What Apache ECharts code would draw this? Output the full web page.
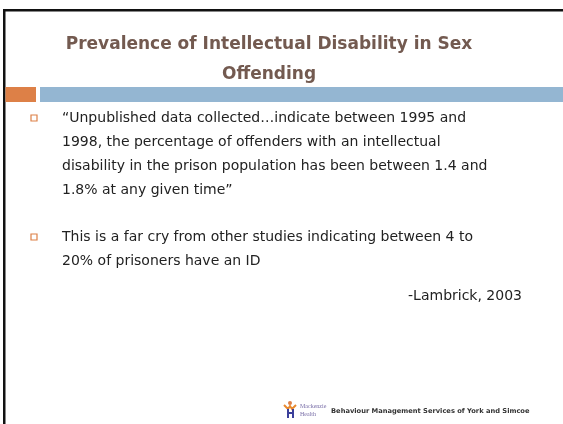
<!DOCTYPE html>
<html lang="en">
<head>
    <meta charset="UTF-8">
    <title>Prevalence of Intellectual Disability in Sex Offending</title>
    <script src="https://cdn.jsdelivr.net/npm/echarts@6/dist/echarts.min.js"></script>
    <style>
        html, body { margin: 0; padding: 0; background: #ffffff; }
        #slide { width: 563px; height: 424px; }
    </style>
</head>
<body>
    <div id="slide"></div>
    <script>
        // slide text
        var titleLines = ['Prevalence of Intellectual Disability in Sex', 'Offending'];
        var bullet1Lines = [
            '\u201cUnpublished data collected\u2026indicate between 1995 and',
            '1998, the percentage of offenders with an intellectual',
            'disability in the prison population has been between 1.4 and',
            '1.8% at any given time\u201d'
        ];
        var bullet2Lines = [
            'This is a far cry from other studies indicating between 4 to',
            '20% of prisoners have an ID'
        ];
        var citation = '-Lambrick, 2003';
        var footerText = 'Behaviour Management Services of York and Simcoe';
        var logoLines = ['Mackenzie', 'Health'];

        var chart = echarts.init(document.getElementById('slide'));
        var bodyFont = '"DejaVu Sans", sans-serif';
        var elements = [];

        // frame
        elements.push({ type: 'rect', shape: { x: 3, y: 9, width: 2.5, height: 415 }, style: { fill: '#111' } });
        elements.push({ type: 'rect', shape: { x: 3, y: 9, width: 560, height: 2.5 }, style: { fill: '#111' } });

        // title
        titleLines.forEach(function (t, i) {
            elements.push({
                type: 'text', x: 269, y: 45 + i * 30,
                style: { text: t, fill: '#735a50', font: 'bold 17px ' + bodyFont, align: 'center', verticalAlign: 'middle' }
            });
        });

        // header bars
        elements.push({ type: 'rect', shape: { x: 5.5, y: 87, width: 30.5, height: 15 }, style: { fill: '#dd8047' } });
        elements.push({ type: 'rect', shape: { x: 40, y: 87, width: 523, height: 15 }, style: { fill: '#94b6d2' } });

        function addBullet(lines, y0) {
            elements.push({ type: 'rect', shape: { x: 31, y: y0 - 3, width: 6, height: 6 }, style: { fill: '#fff', stroke: '#dd8047', lineWidth: 1.2 } });
            lines.forEach(function (t, i) {
                elements.push({
                    type: 'text', x: 62, y: y0 + i * 24,
                    style: { text: t, fill: '#222', font: '14px ' + bodyFont, verticalAlign: 'middle' }
                });
            });
        }
        addBullet(bullet1Lines, 118);
        addBullet(bullet2Lines, 237);

        elements.push({
            type: 'text', x: 522, y: 296,
            style: { text: citation, fill: '#222', font: '14px ' + bodyFont, align: 'right', verticalAlign: 'middle' }
        });

        // footer logo
        elements.push({ type: 'circle', shape: { cx: 290, cy: 403, r: 2 }, style: { fill: '#dd8047' } });
        elements.push({ type: 'polyline', shape: { points: [[284, 405], [288, 409], [290, 406], [292, 409], [296, 405]] }, style: { stroke: '#e8892e', lineWidth: 2, fill: null } });
        elements.push({ type: 'rect', shape: { x: 287, y: 409, width: 2, height: 9 }, style: { fill: '#3b3f9a' } });
        elements.push({ type: 'rect', shape: { x: 292, y: 409, width: 2, height: 9 }, style: { fill: '#3b3f9a' } });
        elements.push({ type: 'rect', shape: { x: 287, y: 412, width: 7, height: 2 }, style: { fill: '#3b3f9a' } });
        logoLines.forEach(function (t, i) {
            elements.push({
                type: 'text', x: 300, y: 406 + i * 8,
                style: { text: t, fill: '#7a6fa8', font: '6px "Liberation Serif", serif', verticalAlign: 'middle' }
            });
        });
        elements.push({
            type: 'text', x: 331, y: 411,
            style: { text: footerText, fill: '#333', font: 'bold 6.7px ' + bodyFont, verticalAlign: 'middle' }
        });

        chart.setOption({ animation: false, graphic: { elements: elements } });
    </script>
</body>
</html>
